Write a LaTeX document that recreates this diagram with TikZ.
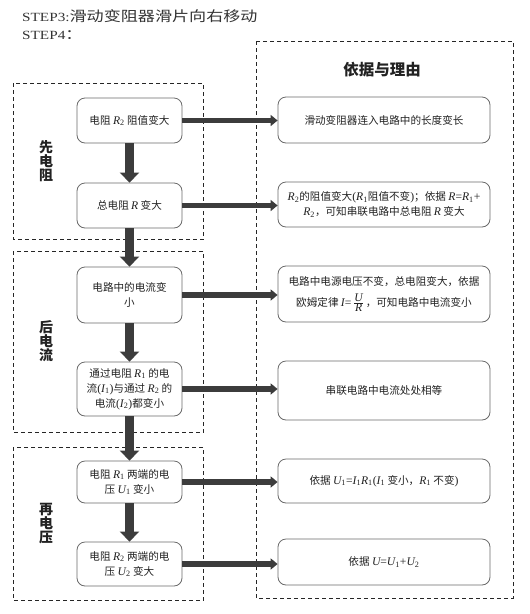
\documentclass[tikz,border=0pt]{standalone}
\usepackage{fontspec}
\setmainfont{Noto Sans CJK SC}
\newfontfamily\tnr{Liberation Serif}[Scale=1.1]
\newfontfamily\tnrt{Liberation Serif}
\usetikzlibrary{arrows.meta}
\newcommand\vi[1]{{\tnr\itshape #1}}
\newcommand\vs[2]{{\tnr\itshape #1}\textsubscript{\tnr #2}}
\newcommand\tm[1]{{\tnr #1}}
\definecolor{arrowc}{HTML}{3C3C3C}
\definecolor{boxc}{HTML}{6A6A6A}
\definecolor{txtc}{HTML}{222222}
\tikzset{
  body/.style={font=\fontsize{10.6}{15}\selectfont, text=txtc},
  lb/.style={body, draw=boxc, line width=0.8pt, rounded corners=8pt, fill=white,
    minimum width=105pt, inner sep=0pt, align=center},
  rb/.style={body, draw=boxc, line width=0.8pt, rounded corners=8pt, fill=white,
    minimum width=212pt, inner sep=0pt, align=center},
  grp/.style={draw=black!85, line width=0.8pt, dash pattern=on 4pt off 3pt},
  varr/.style={draw=arrowc, line width=8.5pt, -{Triangle[width=19pt,length=10pt]}},
  harr/.style={draw=arrowc, line width=5.5pt, -{Triangle[width=11pt,length=7pt]}},
  glabel/.style={font=\bfseries\fontsize{14}{14}\selectfont, align=center, text=txtc},
}
\begin{document}
\begin{tikzpicture}[x=1pt,y=-1pt]
\useasboundingbox (0,0) rectangle (530,614);

% title
\node[anchor=base west, inner sep=0pt, text=black!80] (t1) at (22,21)
  {\scalebox{1.22}[1]{{\tnrt\fontsize{12.5}{14}\selectfont STEP3:}\fontsize{14}{16}\selectfont 滑动变阻器滑片向右移动}};
\node[anchor=base west, inner sep=0pt, text=black!80] (t2) at (22,39.5)
  {\scalebox{1.22}[1]{{\tnrt\fontsize{12.5}{14}\selectfont STEP4}\fontsize{14}{16}\selectfont ：}};

% group boxes
\draw[grp] (13,83) rectangle (203.5,239);
\draw[grp] (13,251) rectangle (203.5,432);
\draw[grp] (13,447) rectangle (203.5,600);
\draw[grp] (256,41) rectangle (513,598);

\node[glabel] (g1) at (46,161) {先\\电\\阻};
\node[glabel] (g2) at (46,341.5) {后\\电\\流};
\node[glabel] (g3) at (46,523.5) {再\\电\\压};

\node[font=\bfseries\fontsize{15.5}{16}\selectfont, text=txtc] (hd) at (382,70) {依据与理由};

% left nodes
\node[lb, minimum height=45pt] (n1) at (129.5,120.5) {电阻 \vs{R}{2} 阻值变大};
\node[lb, minimum height=45pt] (n2) at (129.5,205.5) {总电阻 \vi{R} 变大};
\node[lb, minimum height=56pt] (n3) at (129.5,295) {电路中的电流变\\小};
\node[lb, minimum height=54pt] (n4) at (129.5,389) {通过电阻 \vs{R}{1} 的电\\流\tm{(}\vs{I}{1}\tm{)}与通过 \vs{R}{2} 的\\电流\tm{(}\vs{I}{2}\tm{)}都变小};
\node[lb, minimum height=42pt] (n5) at (129.5,482) {电阻 \vs{R}{1} 两端的电\\压 \vs{U}{1} 变小};
\node[lb, minimum height=44pt] (n6) at (129.5,564) {电阻 \vs{R}{2} 两端的电\\压 \vs{U}{2} 变大};

% right nodes
\node[rb, minimum height=46pt] (r1) at (384,120) {滑动变阻器连入电路中的长度变长};
\node[rb, minimum height=45pt] (r2) at (384,204.5) {\vs{R}{2}的阻值变大\tm{(}\vs{R}{1}阻值不变\tm{)}；依据 \vi{R}\tm{=}\vs{R}{1}\tm{+}\\\vs{R}{2}，可知串联电路中总电阻 \vi{R} 变大};
\node[rb, minimum height=56pt] (r3) at (384,294) {电路中电源电压不变，总电阻变大，依据\\[6pt]欧姆定律 \vi{I}\tm{=}\,$\frac{\mbox{\tnr\itshape U}}{\mbox{\tnr\itshape R}}$\,，可知电路中电流变小};
\node[rb, minimum height=59pt] (r4) at (384,390.5) {串联电路中电流处处相等};
\node[rb, minimum height=44pt] (r5) at (384,481) {依据 \vs{U}{1}\tm{=}\vs{I}{1}\vs{R}{1}\tm{(}\vs{I}{1} 变小，\vs{R}{1} 不变\tm{)}};
\node[rb, minimum height=46pt] (r6) at (384,562) {依据 \vi{U}\tm{=}\vs{U}{1}\tm{+}\vs{U}{2}};

% vertical arrows
\draw[varr] (n1.south) -- (n2.north);
\draw[varr] (n2.south) -- (n3.north);
\draw[varr] (n3.south) -- (n4.north);
\draw[varr] (n4.south) -- (n5.north);
\draw[varr] (n5.south) -- (n6.north);

% horizontal arrows
\draw[harr] (n1.east) -- (n1.east -| r1.west);
\draw[harr] (n2.east) -- (n2.east -| r2.west);
\draw[harr] (n3.east) -- (n3.east -| r3.west);
\draw[harr] (n4.east) -- (n4.east -| r4.west);
\draw[harr] (n5.east) -- (n5.east -| r5.west);
\draw[harr] (n6.east) -- (n6.east -| r6.west);
\end{tikzpicture}
\end{document}
